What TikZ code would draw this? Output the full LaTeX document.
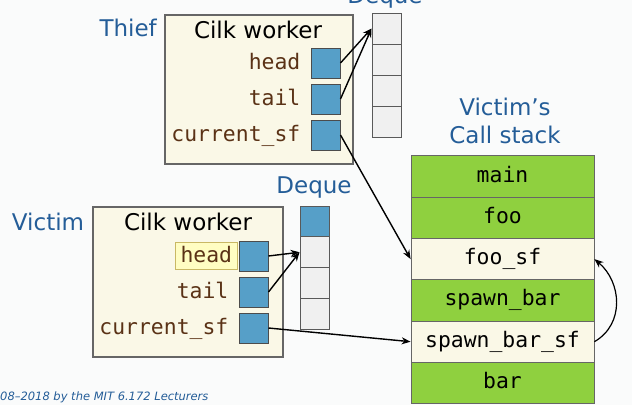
\documentclass[tikz,border=0pt]{standalone}
\usepackage{fontspec}
\setmainfont{DejaVu Sans}
\setmonofont{DejaVu Sans Mono}
\usepackage{tikz}
\usetikzlibrary{arrows.meta, positioning}
\definecolor{labelblue}{HTML}{245D98}
\definecolor{fieldbrown}{HTML}{5A3216}
\definecolor{workerfill}{HTML}{FAF8E7}
\definecolor{ptrblue}{HTML}{569FC8}
\definecolor{cellgray}{HTML}{F0F0F0}
\definecolor{framegreen}{HTML}{8FD03F}
\definecolor{hilite}{HTML}{FFFDC2}
\definecolor{hiliteedge}{HTML}{C9B864}
\definecolor{pagebg}{HTML}{FAFBFB}
\tikzstyle{every node}=[inner sep=0pt]
\tikzstyle{worker}=[draw=black!60, fill=workerfill, line width=1.4pt]
\tikzstyle{ptr}=[draw=black!70, fill=ptrblue, minimum width=29pt, minimum height=30pt, line width=1pt]
\tikzstyle{cell}=[draw=black!65, fill=cellgray, minimum width=29pt, minimum height=31pt, line width=1pt]
\tikzstyle{frame}=[draw=black!60, fill=framegreen, minimum width=183pt, minimum height=41.3pt, text height=16pt, text depth=5pt, font=\fontsize{21.4}{24}\ttfamily, line width=0.8pt]
\tikzstyle{sframe}=[frame, fill=workerfill]
\tikzstyle{field}=[font=\fontsize{21.4}{24}\ttfamily, text=fieldbrown, anchor=base east]
\tikzstyle{title}=[font=\fontsize{23}{28}\selectfont, text=labelblue]
\tikzstyle{pointer}=[-{Stealth[length=9pt,width=7pt]}, line width=1.4pt]

\begin{document}
\begin{tikzpicture}[x=1pt, y=-1pt]
  \fill[pagebg] (0,0) rectangle (632,405);
  \useasboundingbox (0,0) rectangle (632,405);

  % thief
  \node[worker, minimum width=188pt, minimum height=149pt] (thief) at (259,89.5) {};
  \node[title, anchor=base east] (thieflbl) at (157,36) {Thief};
  \node[font=\fontsize{23}{28}\selectfont, anchor=base] (thiefname) at (258,38) {Cilk worker};
  \node[ptr] (thead) at (325.5,63) {};
  \node[ptr, below of=thead, node distance=36pt] (ttail) {};
  \node[ptr, below of=ttail, node distance=36pt] (tsf) {};
  \node[field] (theadlbl) at ([xshift=-10pt, yshift=-6pt]thead.west) {head};
  \node[field] (ttaillbl) at ([xshift=-10pt, yshift=-6pt]ttail.west) {tail};
  \node[field] (tsflbl) at ([xshift=-10pt, yshift=-6pt]tsf.west) {current\_sf};

  \node[title, anchor=base] (tdqlbl) at (385,3) {Deque};
  \node[cell] (td1) at (386.5,28.5) {};
  \node[cell, below of=td1, node distance=31pt] (td2) {};
  \node[cell, below of=td2, node distance=31pt] (td3) {};
  \node[cell, below of=td3, node distance=31pt] (td4) {};

  % victim
  \node[worker, minimum width=190pt, minimum height=150pt] (victim) at (188,282) {};
  \node[title, anchor=base] (victimlbl) at (48,230) {Victim};
  \node[font=\fontsize{23}{28}\selectfont, anchor=base] (victimname) at (188,230) {Cilk worker};
  \node[ptr] (vhead) at (253.5,256) {};
  \node[ptr, below of=vhead, node distance=36pt] (vtail) {};
  \node[ptr, below of=vtail, node distance=36pt] (vsf) {};
  \node[font=\fontsize{21.4}{24}\ttfamily, text=fieldbrown, anchor=east, draw=hiliteedge, fill=hilite,
        line width=0.8pt, inner xsep=5pt, inner ysep=3.5pt, text height=16pt, text depth=4pt]
        (vheadlbl) at ([xshift=-1pt]vhead.west) {head};
  \node[field] (vtaillbl) at ([xshift=-10pt, yshift=-6pt]vtail.west) {tail};
  \node[field] (vsflbl) at ([xshift=-10pt, yshift=-6pt]vsf.west) {current\_sf};

  \node[title, anchor=base] (vdqlbl) at (314,193) {Deque};
  \node[cell, fill=ptrblue] (vd1) at (314.5,221.5) {};
  \node[cell, below of=vd1, node distance=30.75pt] (vd2) {};
  \node[cell, below of=vd2, node distance=30.75pt] (vd3) {};
  \node[cell, below of=vd3, node distance=30.75pt] (vd4) {};

  % call stack
  \node[title, align=center] (stacklbl) at (505,121) {Victim’s\\Call stack};
  \node[frame] (main) at (502.5,176.5) {main};
  \node[frame, below of=main, node distance=41.3pt] (foo) {foo};
  \node[sframe, below of=foo, node distance=41.3pt] (foosf) {foo\_sf};
  \node[frame, below of=foosf, node distance=41.3pt] (spawnbar) {spawn\_bar};
  \node[sframe, below of=spawnbar, node distance=41.3pt] (sbsf) {spawn\_bar\_sf};
  \node[frame, below of=sbsf, node distance=41.3pt] (bar) {bar};

  \draw[pointer] (thead.east) -- (td1.west);
  \draw[pointer] (ttail.east) -- (td1.west);
  \draw[pointer] (tsf.east) -- (foosf.west);
  \draw[pointer] (vhead.east) -- (vd2.west);
  \draw[pointer] (vtail.east) -- (vd2.west);
  \draw[pointer] (vsf.east) -- (sbsf.west);
  \draw[pointer, line width=1.2pt] (sbsf.east) to[out=30, in=-40, looseness=1.1] (foosf.east);

  \node[font=\fontsize{11.5}{13}\itshape, text=labelblue, anchor=base west] (credit) at (0,400) {08–2018 by the MIT 6.172 Lecturers};
\end{tikzpicture}
\end{document}
